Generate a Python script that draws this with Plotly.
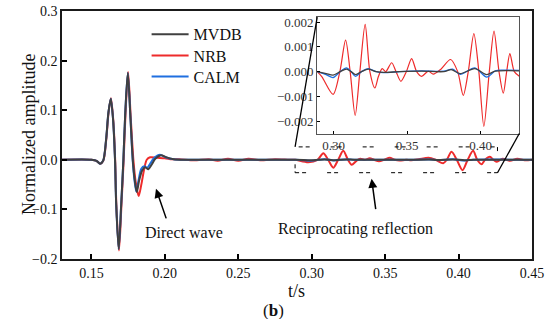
import plotly.graph_objects as go

# ---------------- data ----------------
mvdb_t = [0.130, 0.150, 0.1535, 0.1559, 0.1580, 0.1600, 0.1616, 0.1632, 0.1648, 0.1661, 0.1669, 0.1686,
          0.1703, 0.1718, 0.1730, 0.1748, 0.1766, 0.1782, 0.1795, 0.1809, 0.1825, 0.1845, 0.1865, 0.1888,
          0.1910, 0.1935, 0.1974, 0.2010, 0.2060, 0.2150, 0.2500, 0.2890, 0.2997, 0.3045, 0.3088, 0.3120,
          0.3150, 0.3190, 0.3236, 0.3290, 0.3450, 0.3700, 0.3800, 0.3860, 0.3961, 0.4041, 0.4100, 0.4300,
          0.4500]
mvdb_v = [0.0, 0.0, -0.002, -0.008, -0.002, 0.040, 0.095, 0.123, 0.080, 0.000, -0.090, -0.180,
          -0.090, 0.000, 0.090, 0.175, 0.085, 0.000, -0.040, -0.065, -0.042, -0.022, -0.015, -0.019,
          -0.010, 0.002, 0.009, 0.005, 0.001, 0.000, 0.000, 0.000, -0.0010, 0.0, 0.0007, 0.0,
          -0.0008, 0.0, 0.0007, 0.0, 0.0, 0.0, 0.0006, -0.0006, 0.0008, -0.0008, 0.0001, 0.0002,
          0.0]

nrb_t = [0.130, 0.150, 0.1535, 0.1560, 0.1581, 0.1601, 0.1617, 0.1633, 0.1649, 0.1662, 0.1670, 0.1688,
         0.1705, 0.1720, 0.1732, 0.1750, 0.1768, 0.1786, 0.1802, 0.1822, 0.1840, 0.1860, 0.1877, 0.1900,
         0.1950, 0.2000, 0.2050, 0.2100, 0.2200, 0.2300, 0.2360, 0.2430, 0.2500, 0.2570, 0.2650, 0.2750,
         0.2850, 0.2887, 0.2977, 0.3040, 0.3079, 0.3112, 0.3147, 0.3180, 0.3215, 0.3247, 0.3272, 0.3305,
         0.3331, 0.3360, 0.3395, 0.3425, 0.3458, 0.3495, 0.3531, 0.3565, 0.3599, 0.3644, 0.3678, 0.3730,
         0.3796, 0.3844, 0.3895, 0.3920, 0.3952, 0.3988, 0.4027, 0.4062, 0.4099, 0.4127, 0.4156, 0.4180,
         0.4213, 0.4237, 0.4258, 0.4300, 0.4350, 0.4400, 0.4450, 0.4500]
nrb_v = [0.0, 0.0, -0.002, -0.008, -0.002, 0.040, 0.095, 0.124, 0.080, 0.000, -0.090, -0.183,
         -0.090, 0.000, 0.090, 0.177, 0.085, 0.000, -0.045, -0.073, -0.050, -0.018, 0.000, 0.005,
         0.004, 0.003, 0.001, 0.001, -0.001, 0.001, -0.002, 0.002, -0.002, 0.002, -0.001, 0.001,
         0.000, 0.000, -0.005, 0.000, 0.013, 0.000, -0.016, 0.000, 0.018, 0.000, -0.010, -0.002,
         0.002, 0.000, 0.003, 0.000, -0.003, 0.000, 0.004, 0.000, -0.0015, 0.000, -0.001, 0.001,
         0.004, 0.000, -0.007, 0.000, 0.016, 0.000, -0.021, 0.000, 0.018, 0.000, -0.009, 0.000,
         0.006, 0.000, -0.004, 0.002, -0.002, 0.002, -0.001, 0.0]

calm_t = [0.130, 0.150, 0.1535, 0.1559, 0.1580, 0.1600, 0.1616, 0.1632, 0.1648, 0.1661, 0.1669, 0.1686,
          0.1703, 0.1718, 0.1730, 0.1748, 0.1766, 0.1781, 0.1793, 0.1806, 0.1822, 0.1840, 0.1860, 0.1880,
          0.1900, 0.1925, 0.1967, 0.2005, 0.2060, 0.2150, 0.2500, 0.2890, 0.2950, 0.2997, 0.3045, 0.3088,
          0.3120, 0.3150, 0.3190, 0.3236, 0.3290, 0.3450, 0.3700, 0.3810, 0.3860, 0.3961, 0.4041, 0.4100,
          0.4300, 0.4500]
calm_v = [0.0, 0.0, -0.002, -0.008, -0.002, 0.040, 0.095, 0.123, 0.080, 0.000, -0.090, -0.180,
          -0.090, 0.000, 0.090, 0.175, 0.085, 0.000, -0.040, -0.064, -0.040, -0.018, -0.013, -0.016,
          -0.008, 0.003, 0.010, 0.005, 0.001, 0.000, 0.000, 0.000, -0.0008, -0.0017, 0.0, 0.0010,
          0.0, -0.0013, 0.0, 0.0008, 0.0, 0.0, 0.0, 0.0007, -0.0008, 0.0010, -0.0015, 0.0002,
          0.0004, 0.0]

# inset (zoomed reflection window)
nrb_in_t = [0.2889, 0.2920, 0.2997, 0.3043, 0.3082, 0.3113, 0.3147, 0.3179, 0.3215, 0.3247, 0.3281, 0.3305,
            0.3331, 0.3355, 0.3395, 0.3425, 0.3458, 0.3495, 0.3531, 0.3565, 0.3599, 0.3644, 0.3678, 0.3730,
            0.3796, 0.3844, 0.3882, 0.3916, 0.3954, 0.3988, 0.4022, 0.4059, 0.4091, 0.4125, 0.4154, 0.4177,
            0.4199, 0.4229, 0.4263]
nrb_in_v = [0.0, -0.0002, -0.00092, 0.0, 0.00127, 0.0, -0.00177, 0.0, 0.00191, 0.0, -0.00066, -0.0002,
            0.00012, 0.0, 0.00036, 0.0, -0.00039, 0.0, 0.00053, 0.0, -0.00019, 0.00002, -0.0001, 0.0001,
            0.00049, 0.0, -0.00096, 0.0, 0.00154, 0.0, -0.00221, 0.0, 0.00164, 0.0, -0.00087, 0.0,
            0.00073, 0.0, -0.00019]

mvdb_in_t = [0.2889, 0.2950, 0.2997, 0.3045, 0.3088, 0.3120, 0.3150, 0.3190, 0.3236, 0.3290, 0.3340, 0.3450,
             0.3600, 0.3750, 0.3800, 0.3860, 0.3961, 0.4041, 0.4100, 0.4263]
mvdb_in_v = [0.0, -0.00008, -0.00014, 0.0, 0.00010, 0.0, -0.00012, 0.0, 0.00010, 0.0, -0.00003, 0.0,
             0.00002, 0.0, 0.00008, -0.00008, 0.00012, -0.00012, 0.00002, 0.00003]

calm_in_t = [0.2889, 0.2950, 0.2997, 0.3045, 0.3088, 0.3120, 0.3150, 0.3190, 0.3236, 0.3290, 0.3340, 0.3450,
             0.3600, 0.3750, 0.3810, 0.3860, 0.3961, 0.4041, 0.4100, 0.4150, 0.4263]
calm_in_v = [0.0, -0.00012, -0.00024, 0.0, 0.00015, 0.0, -0.00019, 0.0, 0.00012, 0.0, -0.00004, 0.0,
             0.00003, 0.00002, 0.00010, -0.00011, 0.00015, -0.00022, 0.00003, 0.00006, 0.00005]

x_ticks = [0.15, 0.20, 0.25, 0.30, 0.35, 0.40, 0.45]
y_ticks = [-0.2, -0.1, 0.0, 0.1, 0.2, 0.3]
inset_x_ticks = [0.30, 0.35, 0.40]
inset_y_ticks = [-0.002, -0.001, 0.0, 0.001, 0.002]

# zoom window in main axes
win_t = [0.2887, 0.4265]
win_v = [-0.026, 0.026]

# ---------------- styling ----------------
FONT = "Liberation Serif"
C_MVDB = "#404040"
C_NRB = "#ee2b2b"
C_CALM = "#1f6fe0"

X_RANGE = [0.13, 0.45]
Y_RANGE = [-0.2, 0.3]
IX_RANGE = [0.2889, 0.4263]
IY_RANGE = [-0.0025, 0.0022]
INSET_X_DOM = [0.543, 0.973]
INSET_Y_DOM = [0.506, 0.975]

fig = go.Figure()

# main traces (drawn order: NRB, CALM, MVDB on top)
fig.add_trace(go.Scatter(x=nrb_t, y=nrb_v, mode="lines", name="NRB", legend="legend2",
                         line=dict(color=C_NRB, width=2, shape="spline", smoothing=0.8)))
fig.add_trace(go.Scatter(x=calm_t, y=calm_v, mode="lines", name="CALM", legend="legend3",
                         line=dict(color=C_CALM, width=2, shape="spline", smoothing=0.8)))
fig.add_trace(go.Scatter(x=mvdb_t, y=mvdb_v, mode="lines", name="MVDB", legend="legend",
                         line=dict(color=C_MVDB, width=2, shape="spline", smoothing=0.8)))

# inset traces
fig.add_trace(go.Scatter(x=nrb_in_t, y=nrb_in_v, mode="lines", showlegend=False, xaxis="x2", yaxis="y2",
                         line=dict(color=C_NRB, width=1.2, shape="spline", smoothing=0.8)))
fig.add_trace(go.Scatter(x=calm_in_t, y=calm_in_v, mode="lines", showlegend=False, xaxis="x2", yaxis="y2",
                         line=dict(color=C_CALM, width=1.3, shape="spline", smoothing=0.8)))
fig.add_trace(go.Scatter(x=mvdb_in_t, y=mvdb_in_v, mode="lines", showlegend=False, xaxis="x2", yaxis="y2",
                         line=dict(color=C_MVDB, width=1.3, shape="spline", smoothing=0.8)))

axis_common = dict(showgrid=False, zeroline=False, showline=True, mirror=True, automargin=False,
                   ticks="inside", tickcolor="black")

PLOT_TOP, PLOT_BOTTOM = 11, 259


def legend_at(yc):
    return dict(x=0.180, y=1 - (yc - PLOT_TOP) / (PLOT_BOTTOM - PLOT_TOP), xanchor="left", yanchor="middle",
                bgcolor="rgba(0,0,0,0)", itemwidth=37,
                font=dict(family=FONT, size=16, color="#111111"))


fig.update_layout(
    template="none",
    width=550, height=331,
    margin=dict(l=62, r=18, t=PLOT_TOP, b=331 - PLOT_BOTTOM, pad=0, autoexpand=False),
    paper_bgcolor="white", plot_bgcolor="white",
    font=dict(family=FONT, color="#111111", size=14),
    xaxis=dict(range=X_RANGE, tickvals=x_ticks, tickformat=".2f", linecolor="#1a1a1a", linewidth=1.6,
               ticklen=5, tickwidth=1.5, tickfont=dict(size=14), **axis_common),
    yaxis=dict(range=Y_RANGE, tickvals=y_ticks, tickformat=".1f", linecolor="#1a1a1a", linewidth=1.6,
               ticklen=5, tickwidth=1.5, tickfont=dict(size=14), **axis_common),
    xaxis2=dict(domain=INSET_X_DOM, anchor="y2", range=IX_RANGE, tickvals=inset_x_ticks, tickformat=".2f",
                linecolor="#555555", linewidth=1, ticklen=3, tickwidth=1, tickfont=dict(size=13, color="#333333"),
                **axis_common),
    yaxis2=dict(domain=INSET_Y_DOM, anchor="x2", range=IY_RANGE, tickvals=inset_y_ticks, tickformat=".3f",
                linecolor="#555555", linewidth=1, ticklen=3, tickwidth=1, tickfont=dict(size=13, color="#333333"),
                **axis_common),
    legend=legend_at(34.3),
    legend2=legend_at(55.5),
    legend3=legend_at(76.5),
    showlegend=True,
)

# dashed zoom window
fig.add_shape(type="rect", xref="x", yref="y", x0=win_t[0], x1=win_t[1], y0=win_v[0], y1=win_v[1],
              line=dict(color="black", width=1, dash="4px,3px,4px,21px"), layer="above")


def to_paper_x(t):
    return (t - X_RANGE[0]) / (X_RANGE[1] - X_RANGE[0])


def to_paper_y(v):
    return (v - Y_RANGE[0]) / (Y_RANGE[1] - Y_RANGE[0])


# connector lines from the window to the inset
fig.add_shape(type="line", xref="paper", yref="paper",
              x0=to_paper_x(win_t[0]), y0=to_paper_y(win_v[1]), x1=INSET_X_DOM[0], y1=INSET_Y_DOM[1],
              line=dict(color="black", width=1.3))
fig.add_shape(type="line", xref="paper", yref="paper",
              x0=to_paper_x(win_t[1]), y0=to_paper_y(win_v[0]), x1=INSET_X_DOM[1], y1=INSET_Y_DOM[0],
              line=dict(color="black", width=1.3))

# text annotations
fig.add_annotation(x=0.194, y=-0.0586, xref="x", yref="y", ax=10.7, ay=31, text="",
                   showarrow=True, arrowhead=2, arrowsize=1.2, arrowwidth=1.5, arrowcolor="black")
fig.add_annotation(x=0.2131, y=-0.147, xref="x", yref="y", text="Direct wave", showarrow=False,
                   font=dict(size=16, color="#111111"))
fig.add_annotation(x=0.3408, y=-0.0384, xref="x", yref="y", ax=4.3, ay=31.7, text="",
                   showarrow=True, arrowhead=2, arrowsize=1.2, arrowwidth=1.5, arrowcolor="black")
fig.add_annotation(x=0.3300, y=-0.139, xref="x", yref="y", text="Reciprocating reflection", showarrow=False,
                   font=dict(size=16, color="#111111"))

# axis titles and panel label
fig.add_annotation(x=-0.0957, y=0.5, xref="paper", yref="paper", text="Normalized amplitude",
                   textangle=-90, showarrow=False, font=dict(size=18, color="#111111"))
fig.add_annotation(x=to_paper_x(0.2898), y=-(301.0 - PLOT_BOTTOM) / (PLOT_BOTTOM - PLOT_TOP),
                   xref="paper", yref="paper", text="t/s", height=18, borderpad=0,
                   showarrow=False, font=dict(size=18, color="#111111"))
fig.add_annotation(x=to_paper_x(0.2743), y=-(320.0 - PLOT_BOTTOM) / (PLOT_BOTTOM - PLOT_TOP),
                   xref="paper", yref="paper", text="(<b>b</b>)", height=18, borderpad=0,
                   showarrow=False, font=dict(size=17, color="#111111"))

fig.write_html("out.html", config={"displayModeBar": False},
               post_script="document.body.style.margin='0px';")
